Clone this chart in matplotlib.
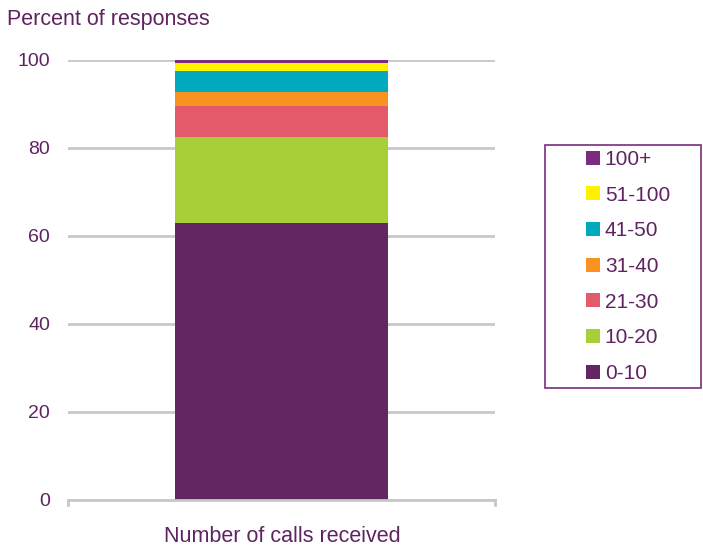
import matplotlib.pyplot as plt
from matplotlib.patches import Rectangle

plt.rcParams['font.family'] = ['Liberation Sans', 'DejaVu Sans']

categories = ['0-10', '10-20', '21-30', '31-40', '41-50', '51-100', '100+']
shares = [63.0, 19.5, 7.0, 3.2, 4.8, 1.8, 0.7]
colors = ['#622762', '#a8cf38', '#e35a6b', '#f7931e', '#00a9be', '#fff200', '#7b2c7e']
x_label = 'Number of calls received'
y_ticks = [0, 20, 40, 60, 80, 100]

text_color = '#5f2460'
grid_color = '#c8c8c8'
W, H = 703, 546

fig = plt.figure(figsize=(W / 100, H / 100), dpi=100)
ax = fig.add_axes([68 / W, 46 / H, 427 / W, 440 / H])

bottom = 0
handles = []
for cat, val, col in zip(categories, shares, colors):
    b = ax.bar(0, val, width=0.5, bottom=bottom, color=col, label=cat, zorder=3)
    handles.append(b)
    bottom += val

ax.set_xlim(-0.5, 0.5)
ax.set_ylim(0, 100)
ax.set_yticks(y_ticks)
ax.set_xticks([])
ax.yaxis.grid(True, color=grid_color, linewidth=2, zorder=0)
ax.tick_params(axis='y', length=0, pad=13, labelsize=14, labelcolor=text_color)
for side in ['top', 'right', 'left']:
    ax.spines[side].set_visible(False)
ax.spines['bottom'].set_color(grid_color)
ax.spines['bottom'].set_linewidth(2)
ax.spines['bottom'].set_zorder(4)
# little end ticks on the category axis
for xe in (-0.5, 0.5):
    ax.plot([xe, xe], [0, -1.2], color=grid_color, lw=2, clip_on=False)

fig.text(282 / W, 1 - 536 / H, x_label, fontsize=15.5, color=text_color,
         ha='center', va='center')
fig.text(7 / W, 1 - 20 / H, 'Percent of responses', fontsize=15.5,
         color=text_color, va='center', ha='left')

# legend box drawn separately, entries placed inside it
fig.patches.append(Rectangle((545 / W, 1 - 388 / H), 156 / W, 243 / H,
                             transform=fig.transFigure, fill=False,
                             edgecolor='#7b2c7e', linewidth=1.2))
leg = fig.legend(handles[::-1], categories[::-1], loc='upper left',
                 bbox_to_anchor=(586 / W, 1 - 150 / H), frameon=False,
                 fontsize=15, labelcolor=text_color,
                 handlelength=0.65, handleheight=0.65, handletextpad=0.25,
                 labelspacing=0.8, borderpad=0, borderaxespad=0)

fig.savefig('out.png', dpi=100)
